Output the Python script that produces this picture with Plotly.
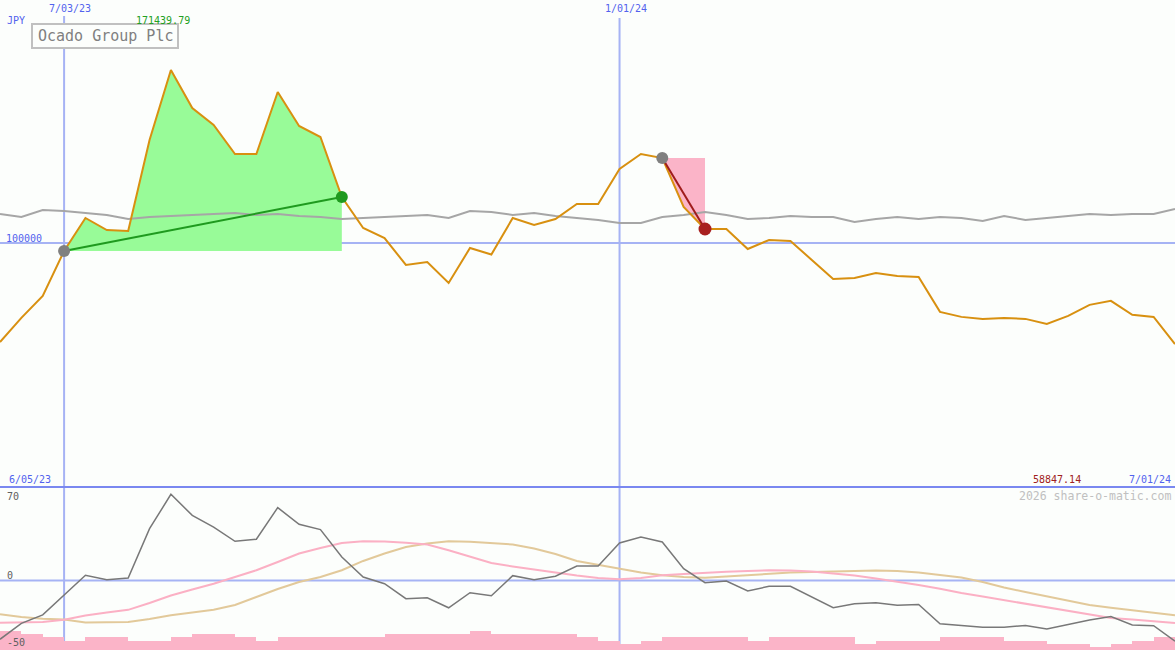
import plotly.graph_objects as go
import pandas as pd

W, H = 1175, 650

# ---------------- data ----------------
dates = pd.date_range("2023-06-12", periods=56, freq="7D").strftime("%Y-%m-%d").tolist()

price = [80280, 84690, 88910, 98240, 105700, 102920, 102700, 125660, 146770, 134910,
         129920, 121810, 121810, 139780, 129630, 126500, 110740, 103380, 101110, 95240,
         95870, 91510, 98900, 97460, 105700, 104070, 105470, 109030, 109030, 117830,
         121810, 120730, 108310, 103150, 103150, 98680, 100670, 100440, 96300, 92320,
         92530, 93560, 92940, 92730, 85830, 84880, 84500, 84690, 84500, 83570,
         85070, 87170, 87950, 85260, 84880, 79920]

benchmark = [106640, 105940, 107600, 107360, 106890, 106410, 105470, 105940, 106170, 106410,
             106640, 106890, 106410, 106640, 106170, 105940, 105470, 105700, 105940, 106170,
             106410, 105700, 107360, 107120, 106410, 106890, 106170, 105700, 105230, 104530,
             104530, 105940, 106410, 107120, 106410, 105470, 105700, 106170, 105940, 105940,
             104770, 105470, 105940, 105470, 105940, 105700, 105000, 106170, 105230, 105700,
             106170, 106640, 106410, 106640, 106640, 107840]

momentum = [-48.7, -35.5, -28.5, -12.0, 4.3, 0.7, 2.1, 42.9, 71.4, 54.0,
            44.3, 32.5, 34.2, 60.4, 46.6, 42.2, 19.5, 2.9, -2.7, -15.1,
            -14.3, -22.6, -10.1, -12.6, 4.0, 0.7, 3.5, 12.0, 12.0, 31.1,
            36.0, 31.9, 9.8, -1.8, -0.4, -8.7, -4.8, -4.8, -13.7, -22.6,
            -19.3, -18.4, -20.6, -19.8, -35.9, -37.5, -38.7, -38.7, -37.3, -40.1,
            -36.5, -32.7, -29.9, -36.9, -37.4, -50.3]

ma_fast = [-35.0, -34.8, -34.4, -32.6, -29.0, -26.5, -24.3, -18.6, -12.4, -7.5,
           -2.7, 2.9, 8.5, 15.3, 22.4, 26.9, 31.1, 32.5, 32.3, 31.2,
           29.8, 25.0, 19.9, 14.5, 11.6, 9.1, 6.2, 4.1, 2.1, 1.0,
           2.1, 4.3, 5.4, 6.5, 7.2, 7.9, 8.5, 8.3, 7.5, 5.8,
           4.1, 1.7, -0.8, -3.7, -6.8, -10.4, -13.3, -16.2, -19.5, -22.4,
           -25.3, -27.7, -31.1, -32.4, -33.8, -35.2]

ma_slow = [-28.0, -30.2, -31.6, -32.4, -34.7, -34.7, -34.3, -31.9, -28.8, -26.5,
           -24.3, -20.3, -13.7, -7.0, -1.2, 2.9, 8.5, 16.2, 22.4, 27.8,
           30.7, 32.5, 32.0, 31.1, 29.8, 26.5, 22.0, 16.2, 12.8, 9.5,
           6.6, 4.3, 2.9, 2.3, 3.3, 4.3, 5.8, 6.6, 7.0, 7.5,
           8.3, 8.3, 7.9, 6.6, 4.6, 2.5, -1.2, -5.8, -9.5, -13.3,
           -17.0, -20.3, -22.5, -24.4, -26.5, -28.8]

volume = [6, 5, 4, 3, 4, 4, 3, 3, 4, 5,
          5, 4, 3, 4, 4, 4, 4, 4, 5, 5,
          5, 5, 6, 5, 5, 5, 5, 4, 3, 2,
          3, 4, 4, 4, 4, 3, 4, 4, 4, 4,
          2, 3, 3, 3, 4, 4, 4, 3, 3, 2,
          2, 1, 2, 3, 4]

win_trade = (3, 16)    # buy index, sell index
loss_trade = (31, 33)
ref_level = 100000
marker_dates = ["2023-07-03", "2024-01-01"]

# ---------------- styles ----------------
BG = "#fcfefc"
BLUE_LINE = "#a6b3f4"
BLUE_TXT = "#5262ee"
SEP = "#7a88f0"
MONO = "DejaVu Sans Mono"
TOP_DOM = [163 / H, 1]
BOT_DOM = [0, 163 / H]

fig = go.Figure()

# bottom panel: volume bars (y2) then indicator lines (y3 overlay)
fig.add_trace(go.Bar(x=dates[:len(volume)], y=volume, yaxis="y2", offset=0,
                     width=7 * 86400000, marker=dict(color="#fbb4c8", line=dict(width=0)),
                     hoverinfo="skip"))
fig.add_trace(go.Scatter(x=[dates[0], dates[-1]], y=[0, 0], yaxis="y3", mode="lines",
                         line=dict(color=BLUE_LINE, width=2), hoverinfo="skip"))
fig.add_trace(go.Scatter(x=dates, y=ma_slow, yaxis="y3", mode="lines",
                         line=dict(color="#e2c99a", width=2)))
fig.add_trace(go.Scatter(x=dates, y=ma_fast, yaxis="y3", mode="lines",
                         line=dict(color="#fbb0c4", width=2)))
fig.add_trace(go.Scatter(x=dates, y=momentum, yaxis="y3", mode="lines",
                         line=dict(color="#787878", width=1.5)))

# top panel
fig.add_trace(go.Scatter(x=[dates[0], dates[-1]], y=[ref_level, ref_level], yaxis="y",
                         mode="lines", line=dict(color=BLUE_LINE, width=2), hoverinfo="skip"))

b, s = win_trade
fig.add_trace(go.Scatter(x=dates[b:s + 1], y=[price[b]] * (s - b + 1), mode="lines",
                         line=dict(width=0), hoverinfo="skip"))
fig.add_trace(go.Scatter(x=dates[b:s + 1], y=price[b:s + 1], mode="lines", fill="tonexty",
                         fillcolor="#98fb98", line=dict(width=0), hoverinfo="skip"))
b2, s2 = loss_trade
fig.add_trace(go.Scatter(x=dates[b2:s2 + 1], y=[price[b2]] * (s2 - b2 + 1), mode="lines",
                         line=dict(width=0), hoverinfo="skip"))
fig.add_trace(go.Scatter(x=dates[b2:s2 + 1], y=price[b2:s2 + 1], mode="lines", fill="tonexty",
                         fillcolor="#fbb4c8", line=dict(width=0), hoverinfo="skip"))

fig.add_trace(go.Scatter(x=dates, y=benchmark, mode="lines",
                         line=dict(color="#a6a6a6", width=2)))
fig.add_trace(go.Scatter(x=dates, y=price, mode="lines",
                         line=dict(color="#d89010", width=2)))

fig.add_trace(go.Scatter(x=[dates[b], dates[s]], y=[price[b], price[s]], mode="lines",
                         line=dict(color="#1f9a1f", width=2)))
fig.add_trace(go.Scatter(x=[dates[b2], dates[s2]], y=[price[b2], price[s2]], mode="lines",
                         line=dict(color="#a01c1c", width=2)))
fig.add_trace(go.Scatter(x=[dates[b], dates[b2]], y=[price[b], price[b2]], mode="markers",
                         marker=dict(color="#808080", size=12, line=dict(width=0))))
fig.add_trace(go.Scatter(x=[dates[s]], y=[price[s]], mode="markers",
                         marker=dict(color="#1f9a1f", size=12, line=dict(width=0))))
fig.add_trace(go.Scatter(x=[dates[s2]], y=[price[s2]], mode="markers",
                         marker=dict(color="#a82020", size=13, line=dict(width=0))))


def py(y):
    return 1 - y / H


shapes = []
for d, top in zip(marker_dates, [16, 18]):
    shapes.append(dict(type="line", xref="x", yref="paper", x0=d, x1=d, y0=0, y1=py(top),
                       line=dict(color=BLUE_LINE, width=2), layer="below"))
shapes.append(dict(type="line", xref="paper", yref="paper", x0=0, x1=1, y0=py(487), y1=py(487),
                   line=dict(color=SEP, width=2), layer="above"))
shapes.append(dict(type="rect", xref="paper", yref="paper", x0=32 / W, x1=178 / W,
                   y0=py(48), y1=py(24), line=dict(color="#c0c0c0", width=2),
                   fillcolor=BG, layer="above"))


def ann(text, x, y, color, size=10, anchor="left", family=MONO):
    return dict(text=text, xref="paper", yref="paper", x=x / W, y=py(y), xanchor=anchor,
                yanchor="middle", showarrow=False, font=dict(family=family, size=size, color=color))


annotations = [
    ann("JPY", 5, 20, BLUE_TXT),
    ann("171439.79", 134, 21, "#22a022"),
    ann("100000", 4, 238, BLUE_TXT),
    ann("6/05/23", 7, 479, BLUE_TXT),
    ann("58847.14", 1083, 479, "#a02020", anchor="right"),
    ann("7/01/24", 1173, 479, BLUE_TXT, anchor="right"),
    ann("2026 share-o-matic.com", 1173, 496, "#c0c0c0", size=11.5, anchor="right"),
    ann("70", 5, 496, "#606060"),
    ann("0", 5, 575, "#606060"),
    ann("-50", 5, 642, "#606060"),
    ann("Ocado Group Plc", 105, 36, "#808080", size=15, anchor="center"),
]
for d, lbl in zip(marker_dates, ["7/03/23", "1/01/24"]):
    annotations.append(dict(text=lbl, xref="x", yref="paper", x=d, y=py(9), xanchor="left",
                            xshift=-17, yanchor="middle", showarrow=False,
                            font=dict(family=MONO, size=10, color=BLUE_TXT)))

ax_off = dict(showgrid=False, zeroline=False, showticklabels=False, ticks="", showline=False)
fig.update_layout(
    width=W, height=H, margin=dict(l=0, r=0, t=0, b=0),
    paper_bgcolor=BG, plot_bgcolor=BG, showlegend=False, hovermode=False,
    bargap=0,
    xaxis=dict(range=[dates[0], dates[-1]], type="date", **ax_off),
    yaxis=dict(type="log", range=[4.7649, 5.2341], domain=TOP_DOM, **ax_off),
    yaxis2=dict(range=[0, 51.7], domain=BOT_DOM, **ax_off),
    yaxis3=dict(range=[-57.58, 77.46], overlaying="y2", **ax_off),
    shapes=shapes, annotations=annotations,
)

fig.write_html("out.html", config={"displayModeBar": False},
               post_script="document.body.style.margin='0';document.body.style.overflow='hidden';")
